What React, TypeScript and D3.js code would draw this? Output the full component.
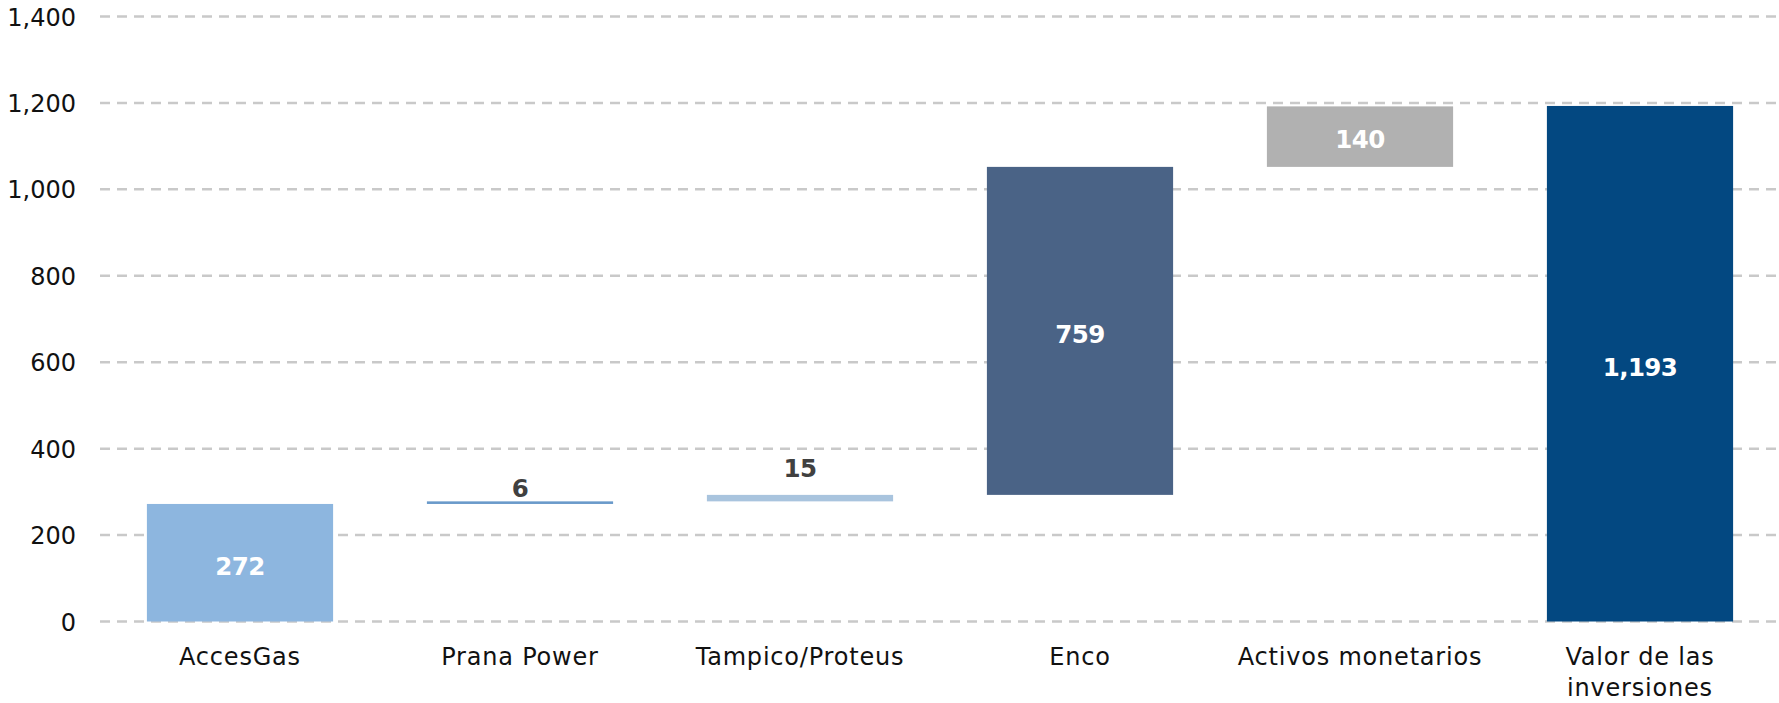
import React from "react";
import * as d3 from "d3";

const categories = ["AccesGas", "Prana Power", "Tampico/Proteus", "Enco", "Activos monetarios", "Valor de las inversiones"];
const values = [272, 6, 15, 759, 140, 1193];
const isTotal = [false, false, false, false, false, true];
const valueLabels = ["272", "6", "15", "759", "140", "1,193"];
const yTicks = [0, 200, 400, 600, 800, 1000, 1200, 1400];

// styles (not data)
const barColors = ["#8DB6DF", "#6A9ACA", "#A9C4DE", "#4A6386", "#B1B1B1", "#034881"];
const labelColors = ["#FFFFFF", "#404040", "#404040", "#FFFFFF", "#FFFFFF", "#FFFFFF"];
const labelPlacement = ["inside", "above", "above", "inside", "inside", "inside"];
const aboveOffset = [0, 2, 16, 0, 0, 0];
const catLines: string[][] = [["AccesGas"], ["Prana Power"], ["Tampico/Proteus"], ["Enco"], ["Activos monetarios"], ["Valor de las", "inversiones"]];

const W = 1779;
const H = 703;
const FONT = "'DejaVu Sans', sans-serif";

export default function App() {
  const x = d3.scaleBand<string>().domain(categories).range([100, 1780]).paddingInner(0.335).paddingOuter(0.1675);
  const y = d3.scaleLinear().domain([0, 1400]).range([621.5, 16.5]);

  let running = 0;
  const bars = values.map((v, i) => {
    let start: number, end: number;
    if (isTotal[i]) {
      start = 0;
      end = v;
    } else {
      start = running;
      end = running + v;
      running = end;
    }
    return { cat: categories[i], start, end, i };
  });

  return (
    <svg width={W} height={H} style={{ position: "absolute", left: 0, top: 0, background: "#fff" }}>
      {yTicks.map((t) => (
        <g key={t}>
          <line x1={100} x2={W} y1={y(t)} y2={y(t)} stroke="#C9C9C9" strokeWidth={2.5} strokeDasharray="10 7" />
          <text x={76} y={y(t)} dy="0.38em" textAnchor="end" fontFamily={FONT} fontSize={24} fill="#111">
            {d3.format(",")(t)}
          </text>
        </g>
      ))}
      {bars.map((b) => {
        const x0 = x(b.cat)!;
        const bw = x.bandwidth();
        const yTop = y(Math.max(b.start, b.end));
        const yBot = y(Math.min(b.start, b.end));
        const h = Math.max(yBot - yTop, 2.5);
        const cx = x0 + bw / 2;
        const ly = labelPlacement[b.i] === "inside" ? (yTop + yBot) / 2 + 3 : yTop - aboveOffset[b.i];
        return (
          <g key={b.cat}>
            <rect x={x0} y={yTop} width={bw} height={h} fill={barColors[b.i]} />
            <text
              x={cx}
              y={ly}
              dy={labelPlacement[b.i] === "inside" ? "0.36em" : "-0.08em"}
              textAnchor="middle"
              fontFamily={FONT}
              fontWeight="bold"
              fontSize={24.5}
              letterSpacing={-0.6}
              fill={labelColors[b.i]}
            >
              {valueLabels[b.i]}
            </text>
          </g>
        );
      })}
      {categories.map((c, i) => (
        <text key={c} x={x(c)! + x.bandwidth() / 2} y={665} textAnchor="middle" fontFamily={FONT} fontSize={24} fill="#111" letterSpacing={0.8}>
          {catLines[i].map((ln, j) => (
            <tspan key={j} x={x(c)! + x.bandwidth() / 2} dy={j === 0 ? 0 : 31}>
              {ln}
            </tspan>
          ))}
        </text>
      ))}
    </svg>
  );
}
